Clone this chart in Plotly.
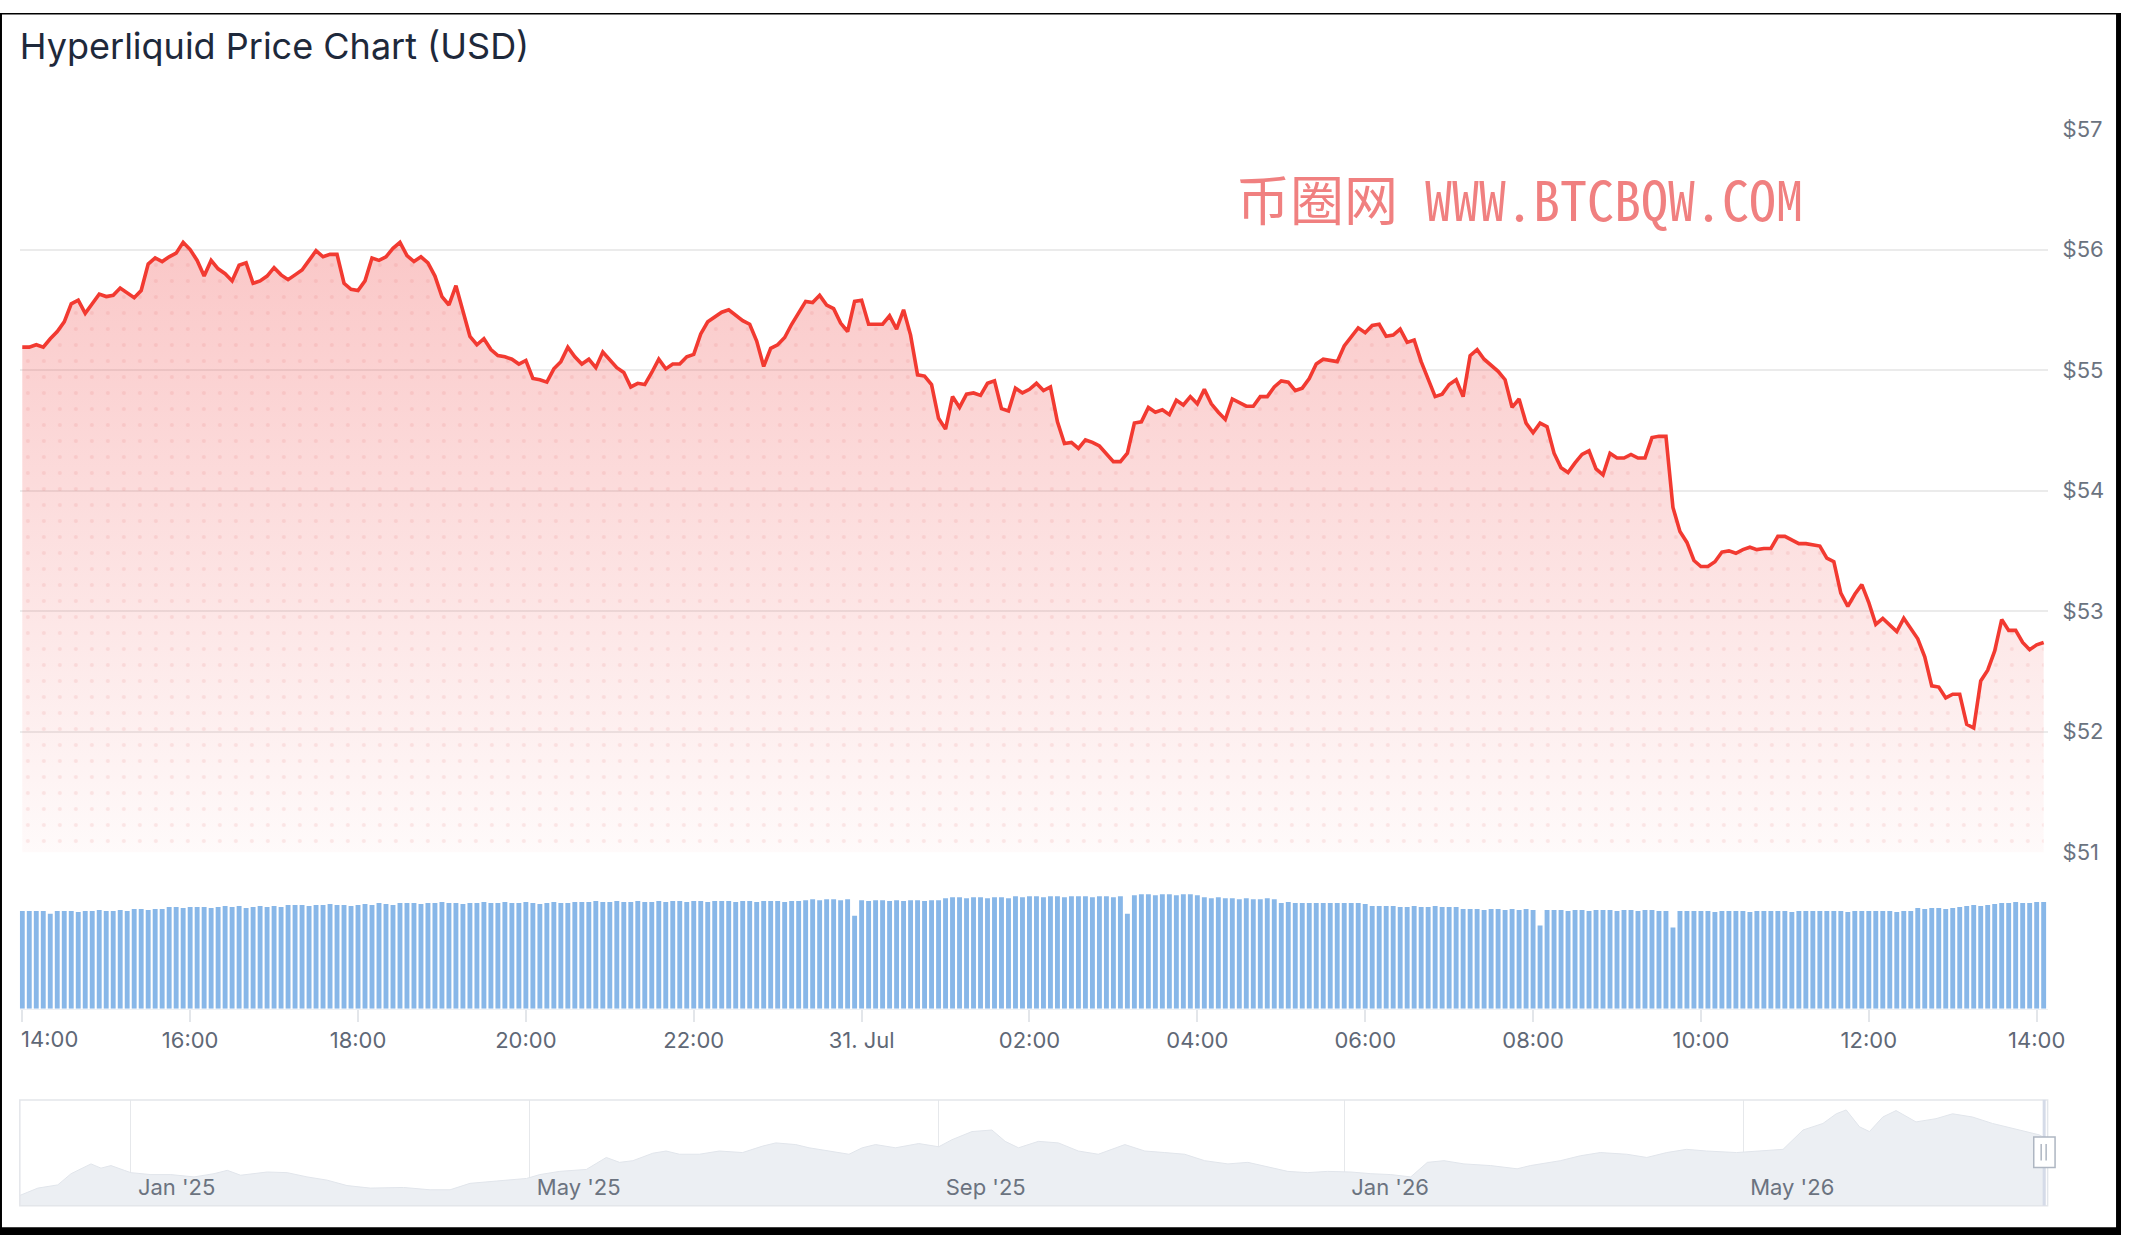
import pandas as pd
import plotly.graph_objects as go

# 5-minute prices, 30 Jul 2026 14:00 -> 31 Jul 2026 14:05
start_time = "2026-07-30 14:00"

price = [
    55.19, 55.19, 55.21, 55.19, 55.26, 55.32, 55.40, 55.55, 55.58, 55.47,
    55.55, 55.63, 55.61, 55.62, 55.68, 55.64, 55.60, 55.66, 55.88, 55.93,
    55.90, 55.94, 55.97, 56.06, 56.00, 55.91, 55.78, 55.91, 55.84, 55.80,
    55.74, 55.87, 55.89, 55.72, 55.74, 55.78, 55.85, 55.79, 55.75, 55.79,
    55.83, 55.91, 55.99, 55.94, 55.96, 55.96, 55.72, 55.67, 55.66, 55.74,
    55.93, 55.91, 55.94, 56.01, 56.06, 55.95, 55.90, 55.94, 55.89, 55.78,
    55.61, 55.54, 55.70, 55.49, 55.28, 55.21, 55.26, 55.17, 55.12, 55.11,
    55.09, 55.05, 55.08, 54.93, 54.92, 54.90, 55.01, 55.07, 55.19, 55.11,
    55.05, 55.09, 55.02, 55.15, 55.08, 55.02, 54.98, 54.86, 54.89, 54.88,
    54.98, 55.09, 55.01, 55.05, 55.05, 55.11, 55.13, 55.30, 55.40, 55.44,
    55.48, 55.50, 55.45, 55.41, 55.38, 55.24, 55.03, 55.18, 55.21, 55.27,
    55.38, 55.47, 55.57, 55.56, 55.62, 55.54, 55.51, 55.39, 55.32, 55.57,
    55.58, 55.38, 55.38, 55.38, 55.45, 55.34, 55.50, 55.29, 54.96, 54.95,
    54.88, 54.60, 54.51, 54.78, 54.69, 54.80, 54.81, 54.79, 54.89, 54.91,
    54.68, 54.66, 54.85, 54.81, 54.84, 54.89, 54.83, 54.86, 54.57, 54.39,
    54.40, 54.35, 54.42, 54.40, 54.37, 54.31, 54.24, 54.24, 54.31, 54.56,
    54.57, 54.69, 54.65, 54.67, 54.63, 54.75, 54.71, 54.78, 54.72, 54.84,
    54.72, 54.65, 54.59, 54.76, 54.73, 54.70, 54.70, 54.78, 54.78, 54.86,
    54.91, 54.90, 54.83, 54.85, 54.93, 55.05, 55.09, 55.08, 55.07, 55.20,
    55.28, 55.35, 55.31, 55.37, 55.38, 55.28, 55.29, 55.34, 55.23, 55.25,
    55.07, 54.92, 54.78, 54.80, 54.88, 54.92, 54.78, 55.12, 55.17, 55.09,
    55.04, 54.99, 54.92, 54.69, 54.76, 54.56, 54.48, 54.56, 54.53, 54.31,
    54.19, 54.15, 54.23, 54.30, 54.33, 54.18, 54.13, 54.31, 54.27, 54.27,
    54.30, 54.27, 54.27, 54.44, 54.45, 54.45, 53.86, 53.66, 53.57, 53.42,
    53.37, 53.37, 53.41, 53.49, 53.50, 53.48, 53.51, 53.53, 53.51, 53.52,
    53.52, 53.62, 53.62, 53.59, 53.56, 53.56, 53.55, 53.54, 53.44, 53.41,
    53.15, 53.04, 53.14, 53.22, 53.07, 52.89, 52.94, 52.88, 52.83, 52.94,
    52.86, 52.77, 52.62, 52.38, 52.37, 52.28, 52.31, 52.31, 52.06, 52.03,
    52.42, 52.51, 52.67, 52.93, 52.84, 52.84, 52.74, 52.68, 52.72, 52.74,
]

# volume per 5-minute bar (M USD)
volume = [
    1000, 1000, 1000, 1000, 970, 1000, 1000, 1000, 990, 1000,
    1000, 1010, 1000, 1000, 1010, 1000, 1020, 1020, 1010, 1020,
    1020, 1040, 1040, 1030, 1040, 1040, 1040, 1030, 1040, 1050,
    1040, 1050, 1030, 1040, 1050, 1040, 1050, 1040, 1060, 1060,
    1060, 1050, 1060, 1060, 1070, 1060, 1060, 1050, 1060, 1070,
    1060, 1080, 1070, 1060, 1080, 1080, 1080, 1070, 1080, 1080,
    1090, 1080, 1080, 1070, 1080, 1080, 1090, 1080, 1080, 1090,
    1080, 1080, 1090, 1080, 1070, 1080, 1090, 1080, 1080, 1090,
    1090, 1090, 1100, 1090, 1090, 1100, 1090, 1090, 1100, 1090,
    1090, 1100, 1090, 1100, 1100, 1090, 1100, 1100, 1090, 1100,
    1100, 1100, 1090, 1100, 1100, 1090, 1100, 1100, 1100, 1090,
    1100, 1100, 1110, 1120, 1110, 1120, 1120, 1110, 1120, 950,
    1110, 1100, 1110, 1110, 1100, 1110, 1100, 1110, 1110, 1100,
    1110, 1110, 1130, 1140, 1140, 1130, 1140, 1140, 1130, 1140,
    1140, 1130, 1150, 1140, 1150, 1150, 1140, 1150, 1150, 1140,
    1150, 1150, 1150, 1140, 1150, 1150, 1140, 1150, 970, 1160,
    1170, 1170, 1160, 1170, 1170, 1160, 1170, 1170, 1160, 1140,
    1130, 1140, 1130, 1130, 1120, 1130, 1120, 1120, 1130, 1120,
    1080, 1090, 1080, 1080, 1080, 1080, 1080, 1080, 1080, 1080,
    1080, 1080, 1070, 1050, 1050, 1050, 1050, 1040, 1040, 1050,
    1040, 1040, 1050, 1040, 1040, 1040, 1020, 1020, 1020, 1010,
    1020, 1020, 1010, 1020, 1010, 1020, 1010, 850, 1010, 1010,
    1010, 1000, 1010, 1010, 1000, 1010, 1010, 1010, 1000, 1010,
    1010, 1000, 1010, 1010, 1000, 1000, 830, 1000, 1000, 1000,
    1000, 1000, 990, 1000, 1000, 1000, 1000, 990, 1000, 1000,
    1000, 1000, 1000, 990, 1000, 1000, 1000, 1000, 1000, 1000,
    1000, 990, 1000, 1000, 1000, 1000, 1000, 1000, 990, 1000,
    1000, 1030, 1020, 1030, 1030, 1020, 1030, 1040, 1050, 1060,
    1050, 1060, 1070, 1080, 1080, 1090, 1080, 1080, 1090, 1090,
]

tick_times = [
    "2026-07-30 14:00", "2026-07-30 16:00", "2026-07-30 18:00", "2026-07-30 20:00",
    "2026-07-30 22:00", "2026-07-31 00:00", "2026-07-31 02:00", "2026-07-31 04:00",
    "2026-07-31 06:00", "2026-07-31 08:00", "2026-07-31 10:00", "2026-07-31 12:00",
    "2026-07-31 14:00",
]
tick_labels = ["14:00", "16:00", "18:00", "20:00", "22:00", "31. Jul", "02:00",
               "04:00", "06:00", "08:00", "10:00", "12:00", "14:00"]

price_ticks = [51, 52, 53, 54, 55, 56, 57]

# navigator: long history
nav_dates = [
    "2024-11-28", "2024-12-04", "2024-12-10", "2024-12-14", "2024-12-17", "2024-12-20",
    "2024-12-23", "2024-12-26", "2024-12-30", "2025-01-01", "2025-01-07", "2025-01-13",
    "2025-01-20", "2025-01-26", "2025-01-30", "2025-02-03", "2025-02-11", "2025-02-17",
    "2025-02-23", "2025-03-01", "2025-03-07", "2025-03-14", "2025-03-24", "2025-04-01",
    "2025-04-07", "2025-04-13", "2025-04-21", "2025-04-30", "2025-05-04", "2025-05-10",
    "2025-05-18", "2025-05-24", "2025-05-28", "2025-06-01", "2025-06-07", "2025-06-11",
    "2025-06-15", "2025-06-21", "2025-06-27", "2025-07-04", "2025-07-10", "2025-07-14",
    "2025-07-20", "2025-07-24", "2025-07-30", "2025-08-05", "2025-08-09", "2025-08-13",
    "2025-08-19", "2025-08-26", "2025-09-01", "2025-09-05", "2025-09-11", "2025-09-17",
    "2025-09-21", "2025-09-25", "2025-10-01", "2025-10-07", "2025-10-13", "2025-10-19",
    "2025-10-27", "2025-11-02", "2025-11-08", "2025-11-14", "2025-11-20", "2025-11-27",
    "2025-12-03", "2025-12-09", "2025-12-15", "2025-12-21", "2025-12-27", "2026-01-03",
    "2026-01-09", "2026-01-15", "2026-01-21", "2026-01-26", "2026-01-31", "2026-02-06",
    "2026-02-14", "2026-02-22", "2026-02-26", "2026-03-07", "2026-03-13", "2026-03-19",
    "2026-03-27", "2026-04-02", "2026-04-08", "2026-04-14", "2026-04-20", "2026-04-29",
    "2026-05-07", "2026-05-13", "2026-05-19", "2026-05-25", "2026-05-29", "2026-06-01",
    "2026-06-05", "2026-06-08", "2026-06-12", "2026-06-16", "2026-06-22", "2026-06-28",
    "2026-07-03", "2026-07-09", "2026-07-15", "2026-07-19", "2026-07-23", "2026-07-29",
    "2026-07-31",
]
nav_price = [
    7.3, 13.6, 16.1, 24.8, 28.6, 32.4, 29.1, 31.1, 27.4, 25.6,
    24.1, 24.1, 22.3, 24.8, 27.4, 23.6, 26.1, 25.6, 22.3, 19.8,
    15.6, 13.6, 14.1, 12.3, 12.3, 17.3, 19.1, 21.1, 24.1, 26.6,
    28.1, 37.4, 33.6, 34.9, 40.7, 42.4, 39.9, 39.9, 42.4, 41.2,
    46.2, 48.7, 47.4, 44.9, 42.4, 39.9, 44.9, 47.4, 44.9, 48.2,
    45.7, 51.2, 57.5, 58.7, 49.9, 44.9, 49.9, 48.7, 42.4, 39.9,
    47.4, 42.4, 41.2, 39.9, 34.9, 32.4, 33.6, 29.9, 26.6, 25.6,
    26.6, 26.1, 24.8, 24.1, 22.3, 33.6, 34.9, 32.4, 31.1, 28.6,
    31.1, 34.9, 38.7, 41.2, 39.9, 37.4, 41.2, 43.7, 42.4, 41.2,
    42.4, 43.7, 58.7, 63.8, 71.3, 74.3, 61.2, 57.5, 68.8, 73.8,
    65.0, 67.5, 71.3, 68.8, 63.8, 61.2, 58.7, 55.0, 52.5,
]
nav_tick_dates = ["2025-01-01", "2025-05-01", "2025-09-01", "2026-01-01", "2026-05-01"]
nav_tick_labels = ["Jan '25", "May '25", "Sep '25", "Jan '26", "May '26"]

W, H = 2139, 1248


def fx(px):
    return px / W


def fy(py):
    return 1 - py / H


times = pd.date_range(start_time, periods=len(price), freq="5min")
x_range = ["2026-07-30 13:58:15", "2026-07-31 14:07:50"]
red = "#f23a31"

fig = go.Figure()

# gradient area under the price
fig.add_trace(go.Scatter(
    x=times, y=price, mode="lines", line=dict(width=0), fill="tozeroy",
    fillgradient=dict(type="vertical", start=51, stop=56.1,
                      colorscale=[[0, "rgba(239,68,68,0.02)"], [1, "rgba(239,68,68,0.30)"]]),
    hoverinfo="skip", xaxis="x", yaxis="y",
))
# faint dot texture
fig.add_trace(go.Scatter(
    x=times, y=price, mode="lines", line=dict(width=0), fill="tozeroy",
    fillcolor="rgba(0,0,0,0)",
    fillpattern=dict(shape=".", size=16, solidity=0.05, fgcolor="rgba(220,70,70,0.22)"),
    hoverinfo="skip", xaxis="x", yaxis="y",
))
fig.add_trace(go.Scatter(
    x=times, y=price, mode="lines", line=dict(color=red, width=3.6),
    xaxis="x", yaxis="y",
))

fig.add_trace(go.Bar(
    x=times, y=volume, marker=dict(color="#88b7e8", line=dict(width=0)),
    xaxis="x2", yaxis="y2",
))

fig.add_trace(go.Scatter(
    x=nav_dates, y=nav_price, mode="lines", line=dict(color="#e1e5eb", width=1),
    fill="tozeroy", fillcolor="#eceff3", xaxis="x3", yaxis="y3", hoverinfo="skip",
))

tick_font = dict(size=22, color="#5f6876")

fig.update_layout(
    width=W, height=H,
    margin=dict(l=0, r=0, t=0, b=0),
    paper_bgcolor="white", plot_bgcolor="white",
    showlegend=False, bargap=0.3,
    font=dict(family="Inter, Roboto, sans-serif", size=22, color="#5f6876"),
    title=dict(text="Hyperliquid Price Chart (USD)", x=fx(20), xanchor="left", xref="paper",
               y=fy(34), yref="paper", yanchor="middle",
               font=dict(size=36, color="#1e293b")),
    xaxis=dict(domain=[fx(20), fx(2065)], range=x_range, anchor="y",
               showticklabels=False, showgrid=False, zeroline=False, showline=False),
    yaxis=dict(domain=[fy(857), fy(118.5)], range=[51, 57], anchor="x", side="right",
               tickvals=price_ticks, ticktext=["$" + str(v) for v in price_ticks],
               ticks="", ticklabelstandoff=14,
               gridcolor="#ebebeb", gridwidth=1.5, zeroline=False, showline=False,
               tickfont=dict(size=22, color="#6b7380")),
    xaxis2=dict(domain=[fx(20), fx(2065)], range=x_range, anchor="y2",
                tickvals=tick_times, ticktext=[""] + tick_labels[1:],
                ticks="outside", ticklen=12, tickwidth=1.5, tickcolor="#e3e6ea",
                showgrid=False, zeroline=False, showline=True, linecolor="#eef0f3",
                tickfont=tick_font),
    yaxis2=dict(domain=[fy(1017), fy(880)], range=[0, 1370], anchor="x2", visible=False),
    xaxis3=dict(domain=[fx(20), fx(2065)], range=["2024-11-28 14:00", "2026-07-31 14:08"],
                anchor="y3", tickvals=nav_tick_dates, ticktext=nav_tick_labels,
                ticklabelposition="inside right", ticklabelshift=7, ticks="", showgrid=True,
                gridcolor="#e6e8eb", gridwidth=1, zeroline=False, showline=False,
                tickfont=dict(size=22, color="#6b7380")),
    yaxis3=dict(domain=[fy(1218), fy(1110)], range=[0, 82.1], anchor="x3", visible=False),
)

# first time label sits inside the plot edge
fig.add_annotation(text=tick_labels[0], x=tick_times[0], xref="x2", y=fy(1048), yref="paper",
                   xanchor="left", yanchor="middle", xshift=-3, showarrow=False, font=tick_font)

# watermark
fig.add_annotation(text="币圈网 WWW.BTCBQW.COM", x=fx(1532), y=fy(188), xref="paper", yref="paper",
                   xanchor="center", yanchor="middle", showarrow=False,
                   font=dict(family="Noto Sans Mono CJK SC, Noto Sans CJK SC, monospace",
                             size=54, color="#f08080"))

# navigator frame, selection and handle
fig.add_shape(type="rect", xref="x3 domain", yref="y3 domain", x0=0, x1=1, y0=0, y1=1,
              line=dict(color="#e3e6ea", width=1.5), layer="above")
fig.add_shape(type="line", xref="paper", yref="paper", x0=fx(2061.5), x1=fx(2061.5),
              y0=fy(1218), y1=fy(1110), line=dict(color="#d5dbe8", width=3), layer="above")
fig.add_shape(type="rect", xref="paper", yref="paper", x0=fx(2051), x1=fx(2072.5),
              y0=fy(1179), y1=fy(1148), fillcolor="white",
              line=dict(color="#aeb6c2", width=1.5), layer="above")
for hx in (2058.5, 2063.5):
    fig.add_shape(type="line", xref="paper", yref="paper", x0=fx(hx), x1=fx(hx),
                  y0=fy(1172), y1=fy(1155), line=dict(color="#aeb6c2", width=1.5), layer="above")

# dark screenshot frame
for x0, x1, y0, y1 in [(0, 2, 0, H), (2134, W, 0, H), (0, W, 0, 1.5), (0, W, 1240, H)]:
    fig.add_shape(type="rect", xref="paper", yref="paper", x0=fx(x0), x1=fx(x1),
                  y0=fy(y1), y1=fy(y0), fillcolor="black", line=dict(width=0), layer="above")

fig.write_html("out.html", config={"displayModeBar": False},
               post_script="document.body.style.margin='0';document.body.style.background='#000';"
                           "document.documentElement.style.background='#000';"
                           "document.body.style.overflow='hidden';")
